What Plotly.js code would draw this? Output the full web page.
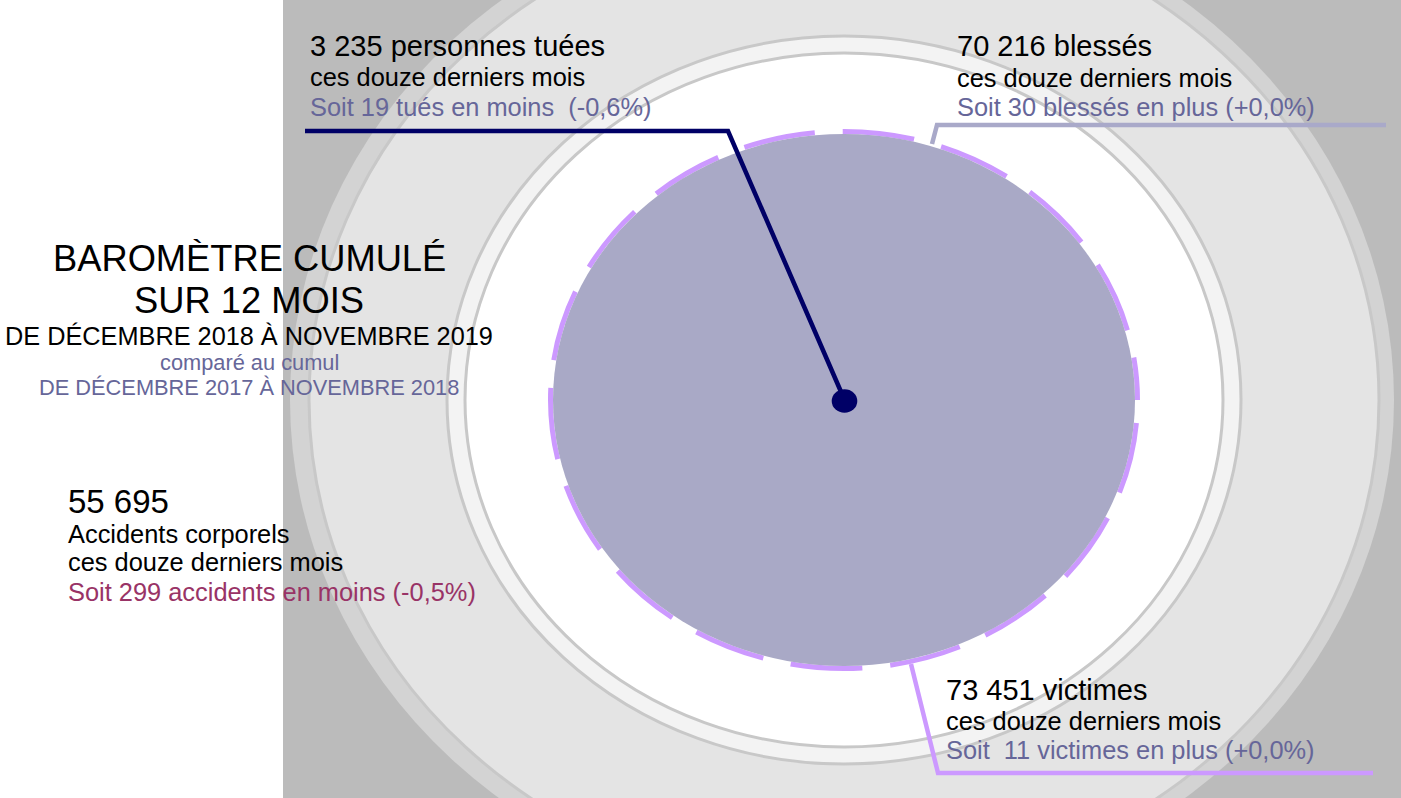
<!DOCTYPE html>
<html>
<head>
<meta charset="utf-8">
<script src="https://cdn.plot.ly/plotly-3.0.1.min.js"></script>
<style>
  html, body { margin: 0; padding: 0; background: #ffffff; }
  #chart { width: 1401px; height: 798px; }
</style>
</head>
<body>
<div id="chart"></div>
<script>
// ---------------- data ----------------
const categories = ['tués', 'blessés', 'victimes', 'accidents'];
const totals = [3235, 70216, 73451, 55695];
const diffs = [-19, 30, 11, -299];
const diffPct = ['-0,6%', '+0,0%', '+0,0%', '-0,5%'];
const titleLines = ['BAROMÈTRE CUMULÉ', 'SUR 12 MOIS'];
const currentPeriod = 'DE DÉCEMBRE 2018 À NOVEMBRE 2019';
const comparedLabel = 'comparé au cumul';
const previousPeriod = 'DE DÉCEMBRE 2017 À NOVEMBRE 2018';
const periodLabel = 'ces douze derniers mois';

// ---------------- helpers ----------------
const fmt = n => String(Math.abs(n)).replace(/\B(?=(\d{3})+(?!\d))/g, ' ');
const sens = n => (n < 0 ? 'en moins' : 'en plus');
const NB = '\u00a0';
const FONT = 'Liberation Sans, Arial, sans-serif';
const BLACK = '#000000';
const SLATE = '#666699';
const WINE = '#993366';
const NAVY = '#000066';
const LILAC = '#cc99ff';
const GREYBLUE = '#a9a9c9';

const iT = categories.indexOf('tués');
const iB = categories.indexOf('blessés');
const iV = categories.indexOf('victimes');
const iA = categories.indexOf('accidents');

const texts = {
  t1: fmt(totals[iT]) + ' personnes tuées',
  t3: 'Soit ' + fmt(diffs[iT]) + ' tués ' + sens(diffs[iT]) + ' ' + NB + '(' + diffPct[iT] + ')',
  b1: fmt(totals[iB]) + ' blessés',
  b3: 'Soit ' + fmt(diffs[iB]) + ' blessés ' + sens(diffs[iB]) + ' (' + diffPct[iB] + ')',
  v1: fmt(totals[iV]) + ' victimes',
  v3: 'Soit ' + NB + fmt(diffs[iV]) + ' victimes ' + sens(diffs[iV]) + ' (' + diffPct[iV] + ')',
  a1: fmt(totals[iA]),
  a2: 'Accidents corporels',
  a3: 'Soit ' + fmt(diffs[iA]) + ' accidents ' + sens(diffs[iA]) + ' (' + diffPct[iA] + ')'
};

function ann(x, y, text, size, color, xanchor) {
  return {
    xref: 'x', yref: 'y', x: x, y: y, text: text, showarrow: false,
    xanchor: xanchor || 'left', yanchor: 'middle',
    font: { family: FONT, size: size, color: color }
  };
}

// ---------------- geometry (style) ----------------
const CX = 844, CY = 400;
function ellipse(rx, ry, fill, lineColor, lineWidth, dash, cx, cy) {
  cx = cx === undefined ? CX : cx; cy = cy === undefined ? CY : cy;
  const s = {
    type: 'circle', xref: 'x', yref: 'y',
    x0: cx - rx, x1: cx + rx, y0: cy - ry, y1: cy + ry,
    fillcolor: fill || 'rgba(0,0,0,0)',
    line: { color: lineColor || 'rgba(0,0,0,0)', width: lineWidth || 0 }
  };
  if (dash) s.line.dash = dash;
  return s;
}
function path(pts, color, width) {
  return {
    type: 'path', xref: 'x', yref: 'y',
    path: pts.map((p, i) => (i ? 'L' : 'M') + p[0] + ',' + p[1]).join(' '),
    line: { color: color, width: width }
  };
}

const shapes = [
  { type: 'rect', xref: 'x', yref: 'y', x0: 283, x1: 1401, y0: 0, y1: 798,
    fillcolor: '#bbbbbb', line: { width: 0 } },
  ellipse(552, 508, '#d3d3d3', null, 0, null, 842),
  ellipse(535, 491, '#e4e4e4', '#c8c8c8', 3),
  ellipse(397, 364, '#f3f3f3', '#c8c8c8', 3),
  ellipse(379, 347, '#ffffff', '#c8c8c8', 3),
  { type: 'rect', xref: 'x', yref: 'y', x0: 0, x1: 283, y0: 0, y1: 798,
    fillcolor: '#ffffff', line: { width: 0 } },
  ellipse(293.5, 268.5, null, LILAC, 5, '0px,23px,72px,5px'),
  ellipse(291, 266, '#a9a9c6', null, 0),
  path([[932, 144], [937, 125], [1386, 125]], GREYBLUE, 4.5),
  path([[911, 664], [938, 773], [1373, 773]], LILAC, 4.5),
  path([[845, 401], [728, 131], [305, 131]], NAVY, 4.5),
  ellipse(12.8, 11.8, NAVY, null, 0, null, 844.5, 401)
];

const annotations = [
  // tués
  ann(308, 45.5, texts.t1, 29, BLACK),
  ann(308, 76.5, periodLabel, 25.4, BLACK),
  ann(308, 106.5, texts.t3, 25.4, SLATE),
  // blessés
  ann(955, 45.5, texts.b1, 29, BLACK),
  ann(955, 77.5, periodLabel, 25.4, BLACK),
  ann(955, 106.5, texts.b3, 25.4, SLATE),
  // victimes
  ann(944, 690, texts.v1, 29, BLACK),
  ann(944, 720.5, periodLabel, 25.4, BLACK),
  ann(944, 749.5, texts.v3, 25.4, SLATE),
  // accidents
  ann(66, 501, texts.a1, 33, BLACK),
  ann(66, 533.5, texts.a2, 25.4, BLACK),
  ann(66, 561.5, periodLabel, 25.4, BLACK),
  ann(66, 591.5, texts.a3, 25.4, WINE),
  // title
  ann(249, 258.5, titleLines[0], 36.3, BLACK, 'center'),
  ann(249, 300.5, titleLines[1], 36.3, BLACK, 'center'),
  ann(249, 335.5, currentPeriod, 25.3, BLACK, 'center'),
  ann(249, 362, comparedLabel, 21.8, SLATE, 'center'),
  ann(249, 387.5, previousPeriod, 21.8, SLATE, 'center')
];

const layout = {
  width: 1401, height: 798,
  margin: { l: 0, r: 0, t: 0, b: 0, pad: 0 },
  paper_bgcolor: '#ffffff', plot_bgcolor: '#ffffff',
  showlegend: false,
  xaxis: { range: [0, 1401], visible: false, fixedrange: true },
  yaxis: { range: [798, 0], visible: false, fixedrange: true },
  shapes: shapes,
  annotations: annotations
};

Plotly.newPlot('chart', [{ type: 'scatter', x: [], y: [], hoverinfo: 'skip' }], layout,
  { displayModeBar: false, staticPlot: true });
</script>
</body>
</html>
